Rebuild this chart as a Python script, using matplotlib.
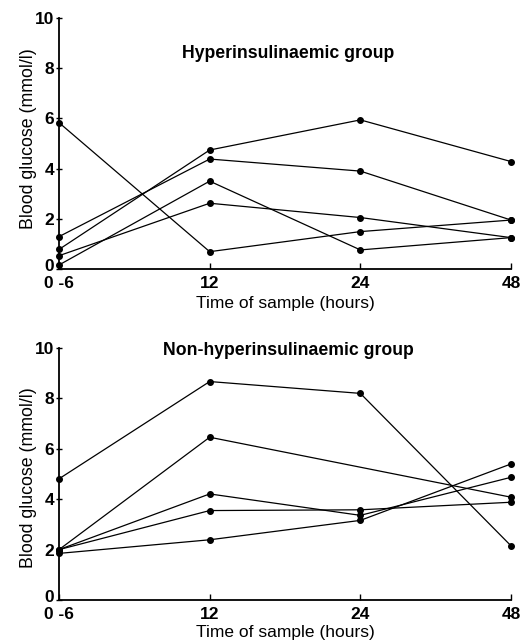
import matplotlib
matplotlib.use("Agg")
import matplotlib.pyplot as plt
import matplotlib.transforms as mtransforms

plt.rcParams['font.family'] = ['Liberation Sans', 'DejaVu Sans']

# sample times (categorical positions)
time_labels = ["0 -6", "12", "24", "48"]
x_pos = [0, 1, 2, 3]

# hyperinsulinaemic group, mmol/l
hyper_1 = [5.83, 0.69, 1.49, 1.95]
hyper_2 = [1.29, 4.38, 3.90, 1.95]
hyper_3 = [0.78, 4.74, 5.94, 4.28]
hyper_4 = [0.53, 2.62, 2.05, 1.25]
hyper_5 = [0.16, 3.50, 0.76, 1.25]

# non-hyperinsulinaemic group, mmol/l (None = no sample)
non_1 = [4.81, 8.67, 8.20, 2.15]
non_2 = [2.00, 6.46, None, 4.08]
non_3 = [2.00, 4.21, 3.36, 4.87]
non_4 = [2.00, 3.55, 3.58, 3.88]
non_5 = [1.85, 2.39, 3.16, 5.40]

hyper_series = [hyper_1, hyper_2, hyper_3, hyper_4, hyper_5]
non_series = [non_1, non_2, non_3, non_4, non_5]


def draw_panel(ax, series, title, title_y, ylab_y, xlab_pad):
    for vals in series:
        xs = [x for x, v in zip(x_pos, vals) if v is not None]
        ys = [v for v in vals if v is not None]
        ax.plot(xs, ys, color='black', lw=0.9, marker='o', ms=4,
                clip_on=False)
    ax.set_xlim(0, 3)
    ax.set_ylim(0, 10)
    ax.set_xticks(x_pos)
    ax.set_xticklabels(time_labels)
    ax.set_yticks([0, 2, 4, 6, 8, 10])
    for lab in ax.get_xticklabels() + ax.get_yticklabels():
        lab.set_fontweight('bold')
        lab.set_fontsize(12.5)
    ax.tick_params(axis='x', direction='in', length=4, pad=5, width=1)
    ax.tick_params(axis='y', direction='inout', length=5, pad=1, width=1)
    # lift the "0" y label a little so it clears the "0 -6" label
    zero_lab = ax.get_yticklabels()[0]
    zero_lab.set_transform(zero_lab.get_transform() +
                           mtransforms.ScaledTranslation(0, 4 / 100,
                                                         ax.figure.dpi_scale_trans))
    ax.spines['top'].set_visible(False)
    ax.spines['right'].set_visible(False)
    ax.spines['left'].set_linewidth(1.3)
    ax.spines['bottom'].set_linewidth(1.3)
    ax.set_xlabel("Time of sample (hours)", fontsize=12.5, labelpad=xlab_pad)
    ax.set_ylabel("Blood glucose (mmol/l)", fontsize=12.8)
    ax.yaxis.set_label_coords(-0.048, ylab_y)
    ax.text(1.52, title_y, title, ha='center', va='center',
            fontsize=12.7, fontweight='bold')


fig = plt.figure(figsize=(5.25, 6.42), dpi=100)
ax1 = fig.add_axes([0.1124, 0.581, 0.861, 0.391])
ax2 = fig.add_axes([0.1124, 0.0654, 0.861, 0.3925])

draw_panel(ax1, hyper_series, "Hyperinsulinaemic group", 8.6, 0.52, 4)
draw_panel(ax2, non_series, "Non-hyperinsulinaemic group", 9.9, 0.484, 2)

fig.savefig("out.png", dpi=100)
